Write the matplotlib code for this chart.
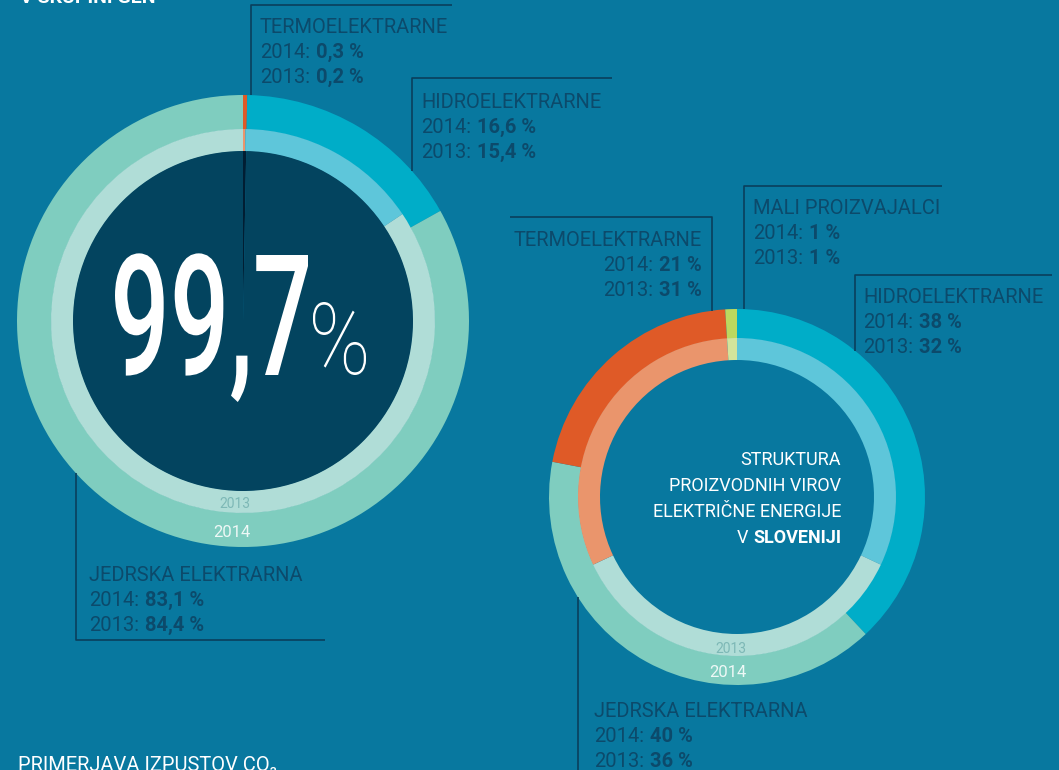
import matplotlib
matplotlib.use("Agg")
import matplotlib.pyplot as plt
from matplotlib.patches import PathPatch
from matplotlib.textpath import TextPath
from matplotlib.font_manager import FontProperties
from matplotlib.transforms import Affine2D
import numpy as np

W, H = 1059, 770

# --- data -------------------------------------------------------------
# left donut: skupina GEN
gen_labels = ["TERMOELEKTRARNE", "HIDROELEKTRARNE", "JEDRSKA ELEKTRARNA"]
gen_2014 = [0.3, 16.6, 83.1]
gen_2013 = [0.2, 15.4, 84.4]
gen_centre = [0.3, 99.7]  # fosilni vs. nizkoogljicni viri

# right donut: Slovenija
slo_labels = ["HIDROELEKTRARNE", "JEDRSKA ELEKTRARNA", "TERMOELEKTRARNE", "MALI PROIZVAJALCI"]
slo_2014 = [38, 40, 21, 1]
slo_2013 = [32, 36, 31, 1]

years = ["2014", "2013"]

# --- colours ----------------------------------------------------------
BG = "#08789f"
TXT = "#0c4a6b"
LINE = "#0a3f5c"
DARK = "#03445f"
DARKEST = "#011e33"
outer_col = {"TERMOELEKTRARNE": "#df5a27", "HIDROELEKTRARNE": "#00adc8",
             "JEDRSKA ELEKTRARNA": "#7fcdbf", "MALI PROIZVAJALCI": "#bcd85f"}
inner_col = {"TERMOELEKTRARNE": "#ea956c", "HIDROELEKTRARNE": "#5ec6da",
             "JEDRSKA ELEKTRARNA": "#b0ddd7", "MALI PROIZVAJALCI": "#d4e49b"}

FONT = ["Roboto", "DejaVu Sans"]
plt.rcParams["font.family"] = FONT
LBL = 14.5  # annotation font size

fig = plt.figure(figsize=(W / 100, H / 100), dpi=100, facecolor=BG)
ax = fig.add_axes([0, 0, 1, 1])
ax.set_facecolor(BG)


def py(y):
    # pixel row (from top) -> data y
    return H - y


def ring(values, names, cols, cx, cy, r, w):
    ax.pie(values, colors=[cols[n] for n in names], center=(cx, py(cy)), radius=r,
           startangle=90, counterclock=False, frame=True,
           wedgeprops=dict(width=w, linewidth=0))


# left donut geometry
LCX, LCY = 243, 321
ring(gen_2014, gen_labels, outer_col, LCX, LCY, 226, 34.5)
ring(gen_2013, gen_labels, inner_col, LCX, LCY, 192, 22.5)
ax.pie(gen_centre, colors=[DARKEST, DARK], center=(LCX, py(LCY)), radius=170,
       startangle=90, counterclock=False, frame=True, wedgeprops=dict(linewidth=0))

# right donut geometry
RCX, RCY = 737, 497
ring(slo_2014, slo_labels, outer_col, RCX, RCY, 188, 29.5)
ring(slo_2013, slo_labels, inner_col, RCX, RCY, 159, 22)

ax.set_xlim(0, W)
ax.set_ylim(0, H)
ax.set_aspect("auto")
ax.axis("off")

renderer = fig.canvas.get_renderer()


def pct_gen(v):
    return f"{v:.1f}".replace(".", ",") + " %"


def pct_slo(v):
    return f"{v:g} %"


def mixed(x, y, light, bold, ha="left", color=TXT, size=LBL, gap=6):
    if ha == "left":
        t = ax.text(x, py(y), light, color=color, fontsize=size, fontweight="normal", va="baseline")
        bb = t.get_window_extent(renderer)
        ax.text(bb.x1 + gap, py(y), bold, color=color, fontsize=size, fontweight="bold", va="baseline")
    else:
        t = ax.text(x, py(y), bold, color=color, fontsize=size, fontweight="bold", va="baseline", ha="right")
        bb = t.get_window_extent(renderer)
        ax.text(bb.x0 - gap, py(y), light, color=color, fontsize=size, fontweight="normal",
                va="baseline", ha="right")


def block(x, y, title, v14, v13, fmt, ha="left"):
    ax.text(x, py(y), title, color=TXT, fontsize=LBL, fontweight="normal", va="baseline", ha=ha)
    mixed(x, y + 25, years[0] + ":", fmt(v14), ha=ha)
    mixed(x, y + 50, years[1] + ":", fmt(v13), ha=ha)


def edge_y(cx, cy, r, x, top=True):
    d = np.sqrt(r ** 2 - (x - cx) ** 2)
    return cy - d if top else cy + d


def leader(pts):
    xs, ys = zip(*pts)
    ax.plot(xs, [py(v) for v in ys], color=LINE, lw=1.2, solid_capstyle="butt")


# --- left annotations -------------------------------------------------
i = gen_labels.index("TERMOELEKTRARNE")
leader([(251, edge_y(LCX, LCY, 226, 251)), (251, 5), (452, 5)])
block(260, 33, gen_labels[i], gen_2014[i], gen_2013[i], pct_gen)

i = gen_labels.index("HIDROELEKTRARNE")
leader([(412, edge_y(LCX, LCY, 226, 412)), (412, 78), (612, 78)])
block(421, 108, gen_labels[i], gen_2014[i], gen_2013[i], pct_gen)

i = gen_labels.index("JEDRSKA ELEKTRARNA")
leader([(76, edge_y(LCX, LCY, 226, 76, top=False)), (76, 640), (325, 640)])
block(89, 581, gen_labels[i], gen_2014[i], gen_2013[i], pct_gen)

ax.text(235, py(508), years[1], color="#7db8b6", fontsize=10, ha="center", va="baseline")
ax.text(232, py(537), years[0], color="#eef8f6", fontsize=12, ha="center", va="baseline")

# big headline number in the centre disc
head = f"{gen_centre[1]:.1f}".replace(".", ",")
fp_big = FontProperties(family="Roboto", weight="medium")
tp = TextPath((0, 0), head, size=100, prop=fp_big)
ext = tp.get_extents()
h7 = TextPath((0, 0), "7", size=100, prop=fp_big).get_extents().height
tr = Affine2D().translate(-ext.x0, 0).scale(193 / ext.width, 120 / h7).translate(115, py(375))
ax.add_patch(PathPatch(tp, transform=tr + ax.transData, color="white", lw=0, zorder=5))

fp_pct = FontProperties(family="Roboto", weight="light")
tpp = TextPath((0, 0), "%", size=100, prop=fp_pct)
ep = tpp.get_extents()
trp = Affine2D().translate(-ep.x0, -ep.y0).scale(53 / ep.width, 73 / ep.height).translate(313, py(375))
ax.add_patch(PathPatch(tpp, transform=trp + ax.transData, color="white", lw=0, zorder=5))

# --- right annotations ------------------------------------------------
i = slo_labels.index("TERMOELEKTRARNE")
leader([(510, 217), (712, 217), (712, edge_y(RCX, RCY, 188, 712))])
block(702, 246, slo_labels[i], slo_2014[i], slo_2013[i], pct_slo, ha="right")

i = slo_labels.index("MALI PROIZVAJALCI")
leader([(744, edge_y(RCX, RCY, 188, 744)), (744, 186), (942, 186)])
block(753, 214, slo_labels[i], slo_2014[i], slo_2013[i], pct_slo)

i = slo_labels.index("HIDROELEKTRARNE")
leader([(855, edge_y(RCX, RCY, 188, 855)), (855, 275), (1052, 275)])
block(863, 303, slo_labels[i], slo_2014[i], slo_2013[i], pct_slo)

i = slo_labels.index("JEDRSKA ELEKTRARNA")
leader([(578, edge_y(RCX, RCY, 188, 578, top=False)), (578, 775)])
block(594, 717, slo_labels[i], slo_2014[i], slo_2013[i], pct_slo)

ax.text(731, py(653), years[1], color="#7db8b6", fontsize=10, ha="center", va="baseline")
ax.text(728, py(677), years[0], color="#eef8f6", fontsize=12, ha="center", va="baseline")

# centre title of the right donut
for k, line in enumerate(["STRUKTURA", "PROIZVODNIH VIROV", "ELEKTRIČNE ENERGIJE"]):
    ax.text(841, py(465 + 26 * k), line, color="white", fontsize=13, fontweight="normal",
            ha="right", va="baseline")
mixed(841, 543, "V", "SLOVENIJI", ha="right", color="white", size=13, gap=5)

# cut-off page texts (cropped like in the source page)
ax.text(20, py(3), "V SKUPINI GEN", color="white", fontsize=14, fontweight="bold", va="baseline")
ax.text(18, py(771), "PRIMERJAVA IZPUSTOV CO₂", color="white", fontsize=14.5, fontweight="normal",
        va="baseline")

fig.savefig("out.png", dpi=100, facecolor=BG)
